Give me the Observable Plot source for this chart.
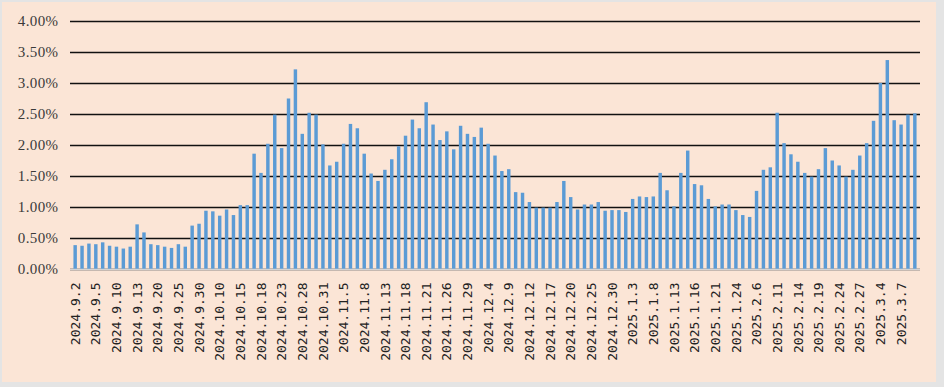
<!DOCTYPE html>
<html>
<head>
<meta charset="utf-8">
<script src="https://cdn.jsdelivr.net/npm/d3@7"></script>
<script src="https://cdn.jsdelivr.net/npm/@observablehq/plot@0.6"></script>
<style>
  html, body { margin: 0; padding: 0; background: #DCDCDC; }
  #wrap { position: relative; width: 944px; height: 387px; background: #E4E4E4; }
  #panel { position: absolute; left: 2px; top: 2px; width: 934px; height: 380px; background: #FBE5D6; }
  #chart { position: absolute; left: 0; top: 0; }
  g[aria-label="y-axis tick label"] text { font-family: "Liberation Serif", serif; font-size: 15px; letter-spacing: 0.4px; }
  g[aria-label="x-axis tick label"] text { font-family: "DejaVu Sans Mono", monospace; font-size: 13px; }
</style>
</head>
<body>
<div id="wrap"><div id="panel"></div><div id="chart"></div></div>
<script>
// Trading dates (categories)
const dates = [
  "2024.9.2","2024.9.3","2024.9.4","2024.9.5","2024.9.6","2024.9.9","2024.9.10","2024.9.11","2024.9.12","2024.9.13",
  "2024.9.18","2024.9.19","2024.9.20","2024.9.23","2024.9.24","2024.9.25","2024.9.26","2024.9.27","2024.9.30",
  "2024.10.8","2024.10.9","2024.10.10","2024.10.11","2024.10.14","2024.10.15","2024.10.16","2024.10.17","2024.10.18",
  "2024.10.21","2024.10.22","2024.10.23","2024.10.24","2024.10.25","2024.10.28","2024.10.29","2024.10.30","2024.10.31",
  "2024.11.1","2024.11.4","2024.11.5","2024.11.6","2024.11.7","2024.11.8","2024.11.11","2024.11.12","2024.11.13",
  "2024.11.14","2024.11.15","2024.11.18","2024.11.19","2024.11.20","2024.11.21","2024.11.22","2024.11.25","2024.11.26",
  "2024.11.27","2024.11.28","2024.11.29",
  "2024.12.2","2024.12.3","2024.12.4","2024.12.5","2024.12.6","2024.12.9","2024.12.10","2024.12.11","2024.12.12",
  "2024.12.13","2024.12.16","2024.12.17","2024.12.18","2024.12.19","2024.12.20","2024.12.23","2024.12.24","2024.12.25",
  "2024.12.26","2024.12.27","2024.12.30","2024.12.31",
  "2025.1.2","2025.1.3","2025.1.6","2025.1.7","2025.1.8","2025.1.9","2025.1.10","2025.1.13","2025.1.14","2025.1.15",
  "2025.1.16","2025.1.17","2025.1.20","2025.1.21","2025.1.22","2025.1.23","2025.1.24","2025.1.27",
  "2025.2.5","2025.2.6","2025.2.7","2025.2.10","2025.2.11","2025.2.12","2025.2.13","2025.2.14","2025.2.17","2025.2.18",
  "2025.2.19","2025.2.20","2025.2.21","2025.2.24","2025.2.25","2025.2.26","2025.2.27","2025.2.28",
  "2025.3.3","2025.3.4","2025.3.5","2025.3.6","2025.3.7","2025.3.10","2025.3.11"
];

// Values in percent
const values = [
  0.385,0.375,0.41,0.40,0.43,0.375,0.36,0.33,0.36,0.72,
  0.59,0.40,0.385,0.36,0.34,0.40,0.36,0.70,0.73,
  0.94,0.93,0.86,0.96,0.87,1.03,1.03,1.86,1.55,
  2.02,2.49,1.95,2.75,3.22,2.18,2.52,2.49,2.01,
  1.67,1.73,2.02,2.34,2.27,1.86,1.54,1.42,1.60,
  1.77,1.98,2.15,2.41,2.27,2.69,2.33,2.08,2.22,
  1.93,2.31,2.18,
  2.13,2.28,2.02,1.83,1.58,1.61,1.24,1.23,1.08,
  0.99,0.99,0.99,1.08,1.42,1.16,0.96,1.04,1.04,
  1.08,0.94,0.95,0.95,
  0.92,1.13,1.17,1.16,1.17,1.55,1.27,1.01,1.55,1.91,
  1.37,1.35,1.13,1.01,1.04,1.04,0.95,0.87,
  0.84,1.26,1.60,1.64,2.52,2.03,1.85,1.73,1.55,1.49,
  1.61,1.95,1.75,1.67,1.49,1.60,1.83,2.03,
  2.39,3.00,3.37,2.40,2.33,2.49,2.51
];

// X tick labels (every third trading day)
const tickLabels = [
  "2024.9.2","2024.9.5","2024.9.10","2024.9.13","2024.9.20","2024.9.25","2024.9.30","2024.10.10","2024.10.15",
  "2024.10.18","2024.10.23","2024.10.28","2024.10.31","2024.11.5","2024.11.8","2024.11.13","2024.11.18","2024.11.21",
  "2024.11.26","2024.11.29","2024.12.4","2024.12.9","2024.12.12","2024.12.17","2024.12.20","2024.12.25","2024.12.30",
  "2025.1.3","2025.1.8","2025.1.13","2025.1.16","2025.1.21","2025.1.24","2025.2.6","2025.2.11","2025.2.14",
  "2025.2.19","2025.2.24","2025.2.27","2025.3.4","2025.3.7"
];

// Y ticks (percent)
const yTicks = [0, 0.5, 1, 1.5, 2, 2.5, 3, 3.5, 4];

const data = dates.map((d, i) => ({date: d, value: values[i]}));

const chart = Plot.plot({
  width: 944,
  height: 387,
  marginLeft: 70,
  marginRight: 24,
  marginTop: 21,
  marginBottom: 118,
  style: {background: "transparent", overflow: "visible", color: "#404040"},
  x: {type: "band", domain: dates, padding: 0.5, label: null},
  y: {domain: [0, 4], label: null},
  marks: [
    Plot.gridY(yTicks, {stroke: "#111", strokeOpacity: 1, strokeWidth: 1.4}),
    Plot.barY(data, {x: "date", y: "value", fill: "#5B9BD5"}),
    Plot.ruleY([0], {stroke: "#D4D4D4", strokeWidth: 1.5}),
    Plot.axisY(yTicks, {tickSize: 0, tickPadding: 12, tickFormat: d => d.toFixed(2) + "%", fill: "#3a3a3a", label: null}),
    Plot.axisX(tickLabels, {tickSize: 0, tickPadding: 13, tickRotate: -90, fill: "#222", label: null})
  ]
});
document.getElementById("chart").appendChild(chart);
</script>
</body>
</html>
